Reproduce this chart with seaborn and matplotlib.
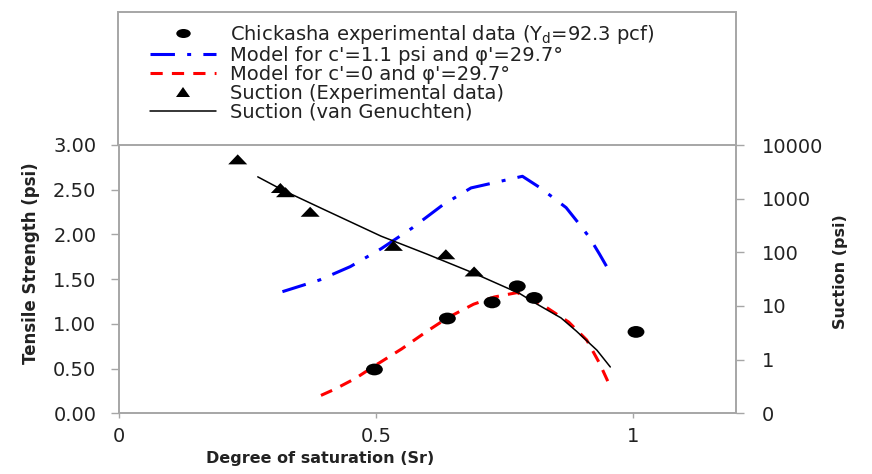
import matplotlib
matplotlib.use("Agg")
import matplotlib.pyplot as plt
import seaborn as sns
from matplotlib.markers import MarkerStyle
from matplotlib.transforms import Affine2D
from matplotlib.lines import Line2D
from matplotlib.patches import Rectangle
from matplotlib.ticker import NullLocator

# ---------------- data ----------------
sr_exp = [0.497, 0.639, 0.726, 0.775, 0.808, 1.006]
ts_exp = [0.49, 1.06, 1.24, 1.42, 1.29, 0.91]

sr_c11 = [0.318, 0.39, 0.45, 0.51, 0.57, 0.63, 0.685, 0.785, 0.82, 0.87, 0.895, 0.915, 0.935, 0.955]
ts_c11 = [1.36, 1.49, 1.64, 1.84, 2.07, 2.33, 2.52, 2.65, 2.52, 2.30, 2.12, 1.97, 1.78, 1.58]

sr_c0 = [0.393, 0.42, 0.46, 0.50, 0.55, 0.60, 0.64, 0.69, 0.73, 0.775, 0.83, 0.875, 0.91, 0.935, 0.955]
ts_c0 = [0.20, 0.27, 0.39, 0.54, 0.72, 0.92, 1.07, 1.22, 1.30, 1.35, 1.19, 1.02, 0.82, 0.56, 0.31]

sr_suction = [0.231, 0.314, 0.324, 0.372, 0.534, 0.636, 0.691]
suction_exp = [5400, 1580, 1320, 570, 132, 92, 44]

sr_vg = [0.27, 0.32, 0.40, 0.51, 0.60, 0.69, 0.78, 0.81, 0.86, 0.89, 0.93, 0.956]
suction_vg = [2550, 1420, 620, 200, 92, 41, 17, 11.3, 6.0, 3.4, 1.5, 0.73]

x_ticks = [0, 0.5, 1]
x_tick_labels = ["0", "0.5", "1"]
ts_ticks = [0, 0.5, 1.0, 1.5, 2.0, 2.5, 3.0]
ts_tick_labels = ["0.00", "0.50", "1.00", "1.50", "2.00", "2.50", "3.00"]
suction_ticks = [0.1, 1, 10, 100, 1000, 10000]
suction_tick_labels = ["0", "1", "10", "100", "1000", "10000"]

legend_labels = [
    "Chickasha experimental data (Y$_{\\mathregular{d}}$=92.3 pcf)",
    "Model for c'=1.1 psi and \u03c6'=29.7\u00b0",
    "Model for c'=0 and \u03c6'=29.7\u00b0",
    "Suction (Experimental data)",
    "Suction (van Genuchten)",
]

# ---------------- style ----------------
sns.set_style("white")
plt.rcParams["font.family"] = ["DejaVu Sans"]
plt.rcParams["mathtext.fontset"] = "dejavusans"

W, H = 872, 474
GRAY = "#a6a6a6"
TXT = "#222222"
BLUE = "#0000ff"
RED = "#ff0000"
blue_ls = (0, (8, 4, 1.3, 4))
red_ls = (0, (4, 3))

fig = plt.figure(figsize=(W / 100, H / 100), dpi=100)
ax = fig.add_axes([119 / W, 1 - 413.3 / H, (735.7 - 119) / W, (413.3 - 145) / H])
ax2 = ax.twinx()
ax2.set_yscale("log")

circle = MarkerStyle("o", transform=Affine2D().scale(1.43, 1.0))
tri = MarkerStyle("^", transform=Affine2D().scale(1.9, 1.0))

# left axis: tensile strength
sns.lineplot(x=sr_c11, y=ts_c11, ax=ax, color=BLUE, linewidth=2.2,
             linestyle=blue_ls, sort=False, estimator=None)
sns.lineplot(x=sr_c0, y=ts_c0, ax=ax, color=RED, linewidth=2.2,
             linestyle=red_ls, sort=False, estimator=None)
sns.scatterplot(x=sr_exp, y=ts_exp, ax=ax, marker=circle, s=72,
                color="black", edgecolor="none", linewidth=0, zorder=3)

# right axis: suction (log)
sns.lineplot(x=sr_vg, y=suction_vg, ax=ax2, color="black", linewidth=1.1,
             sort=False, estimator=None)
sns.scatterplot(x=sr_suction, y=suction_exp, ax=ax2, marker=tri, s=52,
                color="black", edgecolor="none", linewidth=0, zorder=3)

# limits & ticks
ax.set_xlim(0, 1.2)
ax.set_ylim(0, 3)
ax2.set_ylim(0.1, 10000)
ax.set_xticks(x_ticks, x_tick_labels)
ax.set_yticks(ts_ticks, ts_tick_labels)
ax2.set_yticks(suction_ticks, suction_tick_labels)
ax2.yaxis.set_minor_locator(NullLocator())

ax.tick_params(axis="y", left=True, direction="out", length=5.8, width=1.0,
               color=GRAY, pad=10.5, labelsize=14, labelcolor=TXT)
ax.tick_params(axis="x", bottom=True, direction="out", length=3.6, width=1.0,
               color=GRAY, pad=6, labelsize=14, labelcolor=TXT)
ax2.tick_params(axis="y", which="both", left=False, labelleft=False, right=True,
                labelright=True, direction="out", length=5.8, width=1.0,
                color=GRAY, pad=13, labelsize=14, labelcolor=TXT)

for s in ["top", "right"]:
    ax.spines[s].set_visible(False)
for s in ["left", "bottom"]:
    ax.spines[s].set_color(GRAY)
    ax.spines[s].set_linewidth(1.4)
for s in ["top", "left", "bottom"]:
    ax2.spines[s].set_visible(False)
ax2.spines["right"].set_color(GRAY)
ax2.spines["right"].set_linewidth(1.4)
ax.grid(False)
ax2.grid(False)

# axis labels
ax.set_xlabel("Degree of saturation (Sr)", fontsize=11.5, fontweight="bold", color=TXT)
ax.xaxis.set_label_coords(0.326, -0.142)
ax.set_ylabel("Tensile Strength (psi)", fontsize=12, fontweight="bold", color=TXT)
ax.yaxis.set_label_coords(-0.128, 0.56)
ax2.set_ylabel("Suction (psi)", fontsize=11.5, fontweight="bold", color=TXT)
ax2.yaxis.set_label_coords(1.158, 0.527)

# legend box
fig.add_artist(Rectangle((118 / W, 1 - 145 / H), (736 - 118) / W, (145 - 12) / H,
                         transform=fig.transFigure, fill=False,
                         edgecolor=GRAY, linewidth=1.4))

handles = [
    Line2D([], [], ls="", marker=MarkerStyle("o", transform=Affine2D().scale(1.6, 1.0)),
           markersize=6.5, color="black", markeredgewidth=0),
    Line2D([], [], color=BLUE, linewidth=2.2, linestyle=blue_ls),
    Line2D([], [], color=RED, linewidth=2.2, linestyle=red_ls),
    Line2D([], [], ls="", marker=MarkerStyle("^", transform=Affine2D().scale(1.45, 1.0)),
           markersize=6.5, color="black", markeredgewidth=0),
    Line2D([], [], color="black", linewidth=1.1),
]
leg = fig.legend(handles, legend_labels, loc="upper left",
                 bbox_to_anchor=(150 / W, 1 - 23 / H), bbox_transform=fig.transFigure,
                 frameon=False, borderpad=0, borderaxespad=0, handlelength=3.4,
                 handletextpad=0.7, labelspacing=0.0, numpoints=1,
                 prop={"size": 14})
for t in leg.get_texts():
    t.set_color(TXT)

fig.savefig("out.png", dpi=100)
